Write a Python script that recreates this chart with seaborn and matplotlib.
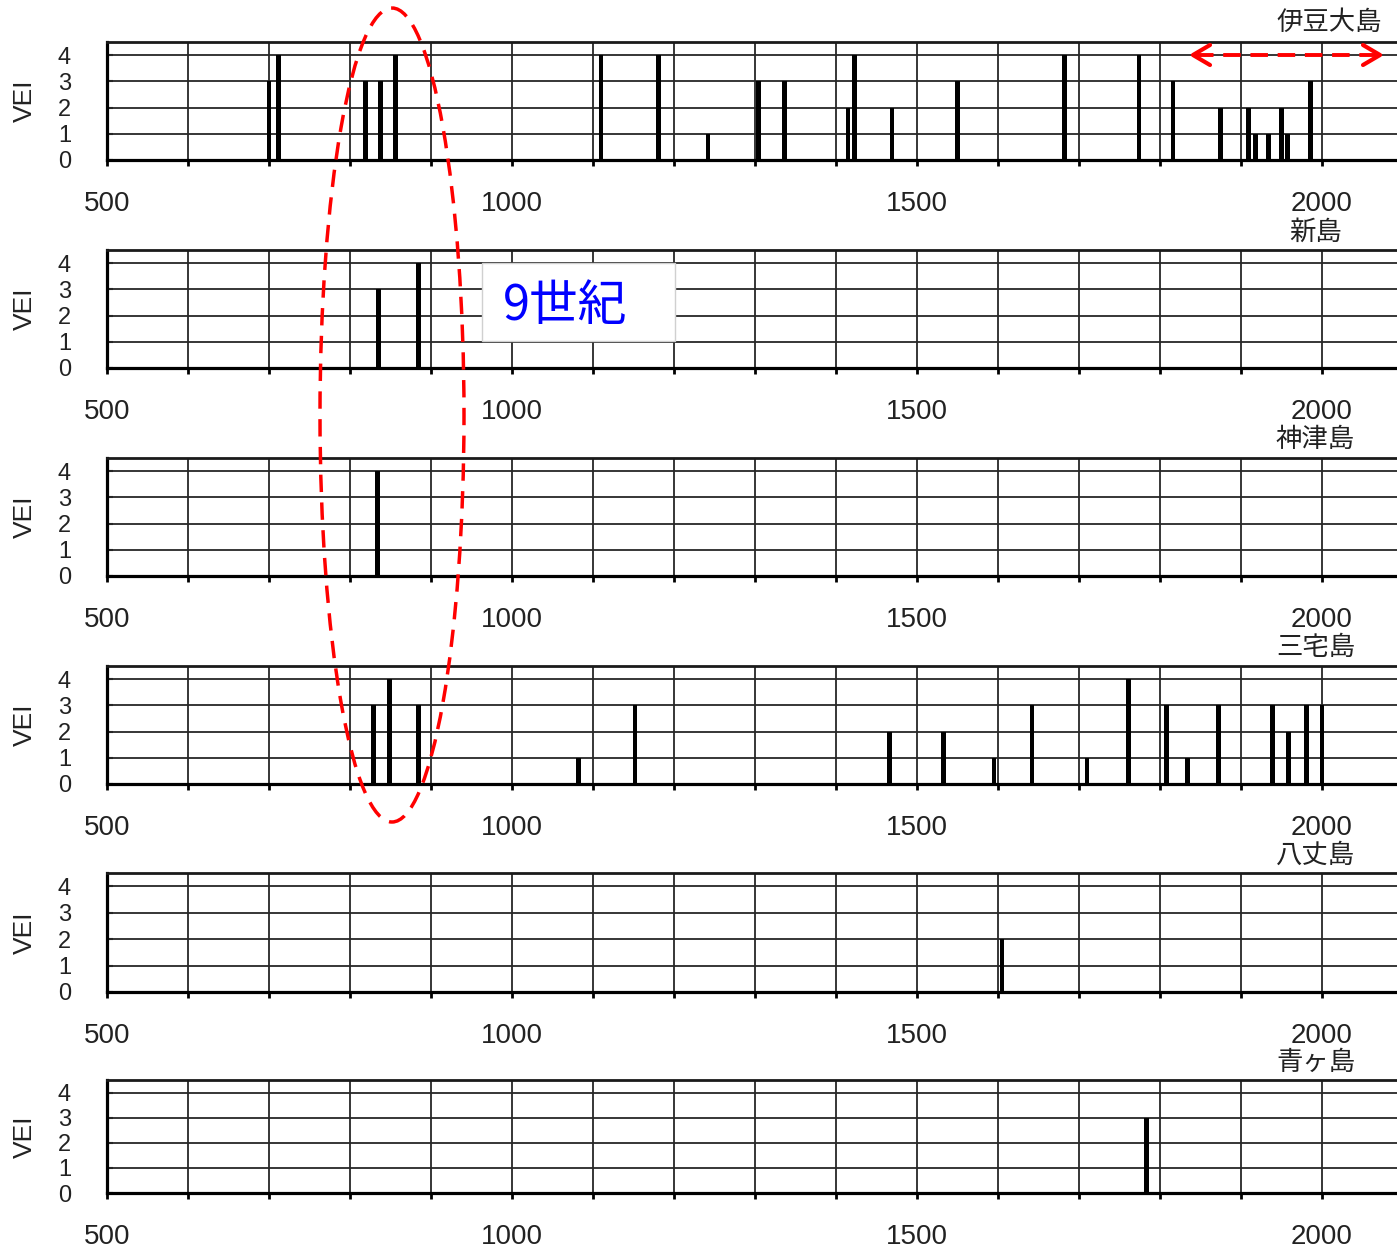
import matplotlib
matplotlib.use('Agg')
import matplotlib.pyplot as plt
import seaborn as sns
from matplotlib.patches import Ellipse, Rectangle
from matplotlib.ticker import MultipleLocator, FuncFormatter

# 噴火データ (年, VEI)
oshima_years = [700, 712, 819, 838, 856, 1110, 1181, 1242, 1304, 1336, 1415, 1423,
                1469, 1550, 1682, 1774, 1816, 1875, 1909, 1918, 1934, 1950, 1957, 1986]
oshima_vei = [3, 4, 3, 3, 4, 4, 4, 1, 3, 3, 2, 4, 2, 3, 4, 4, 3, 2, 2, 1, 1, 2, 1, 3]

niijima_years = [835, 885]
niijima_vei = [3, 4]

kozushima_years = [834]
kozushima_vei = [4]

miyake_years = [829, 849, 885, 1082, 1152, 1466, 1533, 1595, 1642, 1710, 1761, 1808,
                1834, 1872, 1939, 1959, 1981, 2000]
miyake_vei = [3, 4, 3, 1, 3, 2, 2, 1, 3, 1, 4, 3, 1, 3, 3, 2, 3, 3]

hachijo_years = [1605]
hachijo_vei = [2]

aogashima_years = [1783]
aogashima_vei = [3]

island_names = ['伊豆大島', '新島', '神津島', '三宅島', '八丈島', '青ヶ島']
all_years = [oshima_years, niijima_years, kozushima_years, miyake_years, hachijo_years, aogashima_years]
all_vei = [oshima_vei, niijima_vei, kozushima_vei, miyake_vei, hachijo_vei, aogashima_vei]

sns.set_style('ticks')
plt.rcParams['font.family'] = ['Liberation Sans', 'Noto Sans CJK JP', 'DejaVu Sans']

W, H = 1397, 1247
fig = plt.figure(figsize=(W / 100, H / 100), dpi=100)

# パネル位置 (上端, 下端) ピクセル
panel_px = [(42, 160), (250, 368), (458, 576), (666, 784), (873, 992), (1080, 1193)]
x_left = 107

for i, name in enumerate(island_names):
    top, bot = panel_px[i]
    ax = fig.add_axes([x_left / W, 1 - bot / H, 1 - x_left / W, (bot - top) / H])
    ax.bar(all_years[i], all_vei[i], width=5.8, color='black', edgecolor='black', linewidth=0, zorder=3)
    ax.set_xlim(500, 2092.6)
    ax.set_ylim(0, 4.5)
    ax.xaxis.set_major_locator(MultipleLocator(100))
    ax.xaxis.set_major_formatter(FuncFormatter(lambda v, p: f'{int(round(v))}' if round(v) % 500 == 0 else ''))
    ax.set_yticks([0, 1, 2, 3, 4])
    ax.set_axisbelow(True)
    ax.grid(True, color='#262626', lw=1.3)
    for s in ['left', 'bottom']:
        ax.spines[s].set_linewidth(2.3)
        ax.spines[s].set_color('black')
    ax.spines['top'].set_linewidth(2.0)
    ax.spines['top'].set_color('#1a1a1a')
    ax.spines['right'].set_visible(False)
    ax.tick_params(axis='x', direction='out', length=4, width=2, pad=18, labelsize=20, colors='black')
    ax.tick_params(axis='x', labelcolor='#222222')
    ax.tick_params(axis='y', direction='in', length=4, width=1.5, pad=26, labelsize=17, labelcolor='#222222')
    ax.set_ylabel('VEI', fontsize=19, color='#222222')
    ax.yaxis.set_label_coords((37 - x_left) / (W - x_left), 0.5)

    off = 14.4 if i == 0 else 13
    if i == 0:
        ax.annotate(name, xy=(2074, 1), xycoords=('data', 'axes fraction'), xytext=(0, off),
                    textcoords='offset points', ha='right', va='center', fontsize=19,
                    color='#222222', family=['Noto Sans CJK JP'])
    else:
        ax.annotate(name, xy=(1992, 1), xycoords=('data', 'axes fraction'), xytext=(0, off),
                    textcoords='offset points', ha='center', va='center', fontsize=19,
                    color='#222222', family=['Noto Sans CJK JP'])

# 注記レイヤー
ov = fig.add_axes([0, 0, 1, 1], zorder=10)
ov.set_xlim(0, W)
ov.set_ylim(H, 0)
ov.axis('off')
ov.patch.set_alpha(0)

ov.add_patch(Ellipse((392, 415), 144, 814, fill=False, edgecolor='#ff0000', lw=2.5,
                     linestyle=(0, (5, 3))))

ov.plot([1196, 1376], [55, 55], color='#ff0000', lw=2.8, dashes=(4.5, 2.5))
ov.plot([1210, 1193, 1210], [45, 55, 65], color='#ff0000', lw=3.0, solid_capstyle='round')
ov.plot([1363, 1380, 1363], [45, 55, 65], color='#ff0000', lw=3.0, solid_capstyle='round')

ov.add_patch(Rectangle((482, 263), 193, 78, facecolor='white', edgecolor='#d0d0d0', lw=1))
ov.text(565, 306, '9世紀', color='#0000ff', fontsize=35, ha='center', va='center',
        family=['Noto Sans CJK JP'])

fig.savefig('out.png', dpi=100)
